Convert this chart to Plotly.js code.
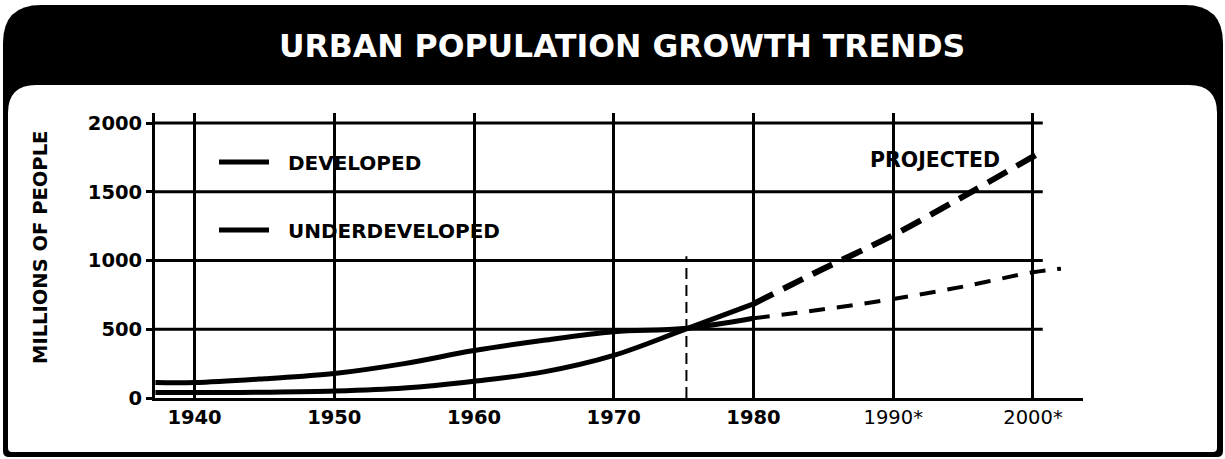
<!DOCTYPE html>
<html><head><meta charset="utf-8">
<script src="https://cdn.plot.ly/plotly-3.0.1.min.js"></script>
<style>html,body{margin:0;padding:0;background:#fff}#chart{width:1225px;height:459px}</style>
</head><body><div id="chart"></div>
<script>
// ---- data ----
const histYears = [1937.2, 1940, 1945, 1950, 1955, 1960, 1965, 1970, 1975, 1980];
const developedHist = [112, 112, 140, 178, 250, 345, 420, 482, 505, 580];
const underdevelopedHist = [40, 40, 42, 50, 72, 122, 190, 310, 495, 685];
const developedProjYears = [1980, 1985, 1990, 1995, 2000, 2002];
const developedProj = [580, 645, 720, 810, 915, 940];
const underdevelopedProjYears = [1980, 1985, 1990, 1995, 2000, 2000.8];
const underdevelopedProj = [685, 940, 1185, 1465, 1755, 1800];
const xTickVals = [1940, 1950, 1960, 1970, 1980, 1990, 2000];
const xTickText = ['<b>1940</b>', '<b>1950</b>', '<b>1960</b>', '<b>1970</b>', '<b>1980</b>', '1990*', '2000*'];
const yTickVals = [0, 500, 1000, 1500, 2000];
const markerYear = 1975.2;
const markerTop = 1030;

// ---- page geometry helpers (decoration only) ----
const W = 1225, H = 459, ML = 155, MR = 142, MT = 113, MB = 61;
const PW = W - ML - MR, PH = H - MT - MB;
const fx = X => (X - ML) / PW;
const fy = Y => (H - MB - Y) / PH;
function rr(x0, y0, x1, y1, rt, rb) {
  const P = (x, y) => fx(x).toFixed(5) + ',' + fy(y).toFixed(5);
  return 'M' + P(x0, y0 + rt) + ' Q' + P(x0, y0) + ' ' + P(x0 + rt, y0) +
    ' L' + P(x1 - rt, y0) + ' Q' + P(x1, y0) + ' ' + P(x1, y0 + rt) +
    ' L' + P(x1, y1 - rb) + ' Q' + P(x1, y1) + ' ' + P(x1 - rb, y1) +
    ' L' + P(x0 + rb, y1) + ' Q' + P(x0, y1) + ' ' + P(x0, y1 - rb) + ' Z';
}

const FONT = 'DejaVu Sans';
const traces = [
  {x: histYears, y: developedHist, type: 'scatter', mode: 'lines', name: '&nbsp;&nbsp;DEVELOPED',
   legend: 'legend', line: {color: '#000', width: 5, shape: 'spline', smoothing: 1}, hoverinfo: 'skip'},
  {x: developedProjYears, y: developedProj, type: 'scatter', mode: 'lines', showlegend: false,
   line: {color: '#000', width: 4, dash: '16px,12px', shape: 'spline', smoothing: 1}, hoverinfo: 'skip'},
  {x: histYears, y: underdevelopedHist, type: 'scatter', mode: 'lines', name: '&nbsp;&nbsp;UNDERDEVELOPED',
   legend: 'legend2', line: {color: '#000', width: 5, shape: 'spline', smoothing: 1}, hoverinfo: 'skip'},
  {x: underdevelopedProjYears, y: underdevelopedProj, type: 'scatter', mode: 'lines', showlegend: false,
   line: {color: '#000', width: 6, dash: '22px,11px', shape: 'spline', smoothing: 1}, hoverinfo: 'skip'}
];

const shapes = [
  {type: 'path', xref: 'paper', yref: 'paper', layer: 'below', path: rr(3, 5, 1223, 457, 38, 6),
   fillcolor: '#000', line: {width: 0}},
  {type: 'path', xref: 'paper', yref: 'paper', layer: 'below', path: rr(8, 85, 1217, 452, 28, 4),
   fillcolor: '#fff', line: {width: 0}}
];
yTickVals.filter(v => v > 0).forEach(v => shapes.push({
  type: 'line', xref: 'x', yref: 'y', layer: 'below', x0: 1937.17, x1: 2000.7, y0: v, y1: v,
  line: {color: '#000', width: 3}
}));
shapes.push({type: 'line', xref: 'x', yref: 'y', layer: 'above', x0: markerYear, x1: markerYear,
  y0: 0, y1: markerTop, line: {color: '#000', width: 2, dash: '11px,6px'}});

const legendBase = {bgcolor: 'rgba(0,0,0,0)', borderwidth: 0, xanchor: 'left', yanchor: 'middle',
  font: {family: FONT, size: 20, weight: 'bold', color: '#000'}, itemwidth: 50};

const layout = {
  width: W, height: H,
  margin: {l: ML, r: MR, t: MT, b: MB, pad: 0},
  paper_bgcolor: '#fff', plot_bgcolor: '#fff',
  showlegend: true,
  legend: Object.assign({x: fx(214), y: fy(162)}, legendBase),
  legend2: Object.assign({x: fx(214), y: fy(230)}, legendBase),
  xaxis: {range: [1937.17, 2003.58], tickmode: 'array', tickvals: xTickVals, ticktext: xTickText,
    showgrid: true, gridcolor: '#000', gridwidth: 3, showline: true, linecolor: '#000', linewidth: 3,
    ticks: '', zeroline: false, fixedrange: true,
    tickfont: {family: FONT, size: 19.5, color: '#000'}},
  yaxis: {range: [0, 2072.7], tickmode: 'array', tickvals: yTickVals, showgrid: false,
    showline: true, linecolor: '#000', linewidth: 3, ticks: 'outside', ticklen: 6, tickwidth: 3,
    tickcolor: '#000', zeroline: false, fixedrange: true,
    tickfont: {family: FONT, size: 19.5, weight: 'bold', color: '#000'}},
  shapes: shapes,
  annotations: [
    {text: 'URBAN POPULATION GROWTH TRENDS', xref: 'paper', yref: 'paper', x: fx(622), y: fy(46),
     xanchor: 'center', yanchor: 'middle', showarrow: false,
     font: {family: FONT, size: 31.5, weight: 'bold', color: '#fff'}},
    {text: 'MILLIONS OF PEOPLE', xref: 'paper', yref: 'paper', x: fx(40), y: fy(248),
     xanchor: 'center', yanchor: 'middle', showarrow: false, textangle: -90,
     font: {family: FONT, size: 19.5, weight: 'bold', color: '#000'}},
    {text: 'PROJECTED', xref: 'paper', yref: 'paper', x: fx(935), y: fy(160),
     xanchor: 'center', yanchor: 'middle', showarrow: false,
     font: {family: FONT, size: 20.5, weight: 'bold', color: '#000'}}
  ]
};

Plotly.newPlot('chart', traces, layout, {staticPlot: true, displayModeBar: false});
</script>
</body></html>
